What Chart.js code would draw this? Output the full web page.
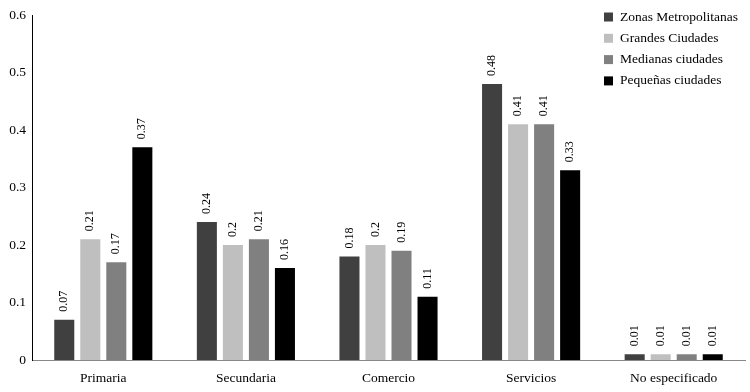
<!DOCTYPE html>
<html><head><meta charset="utf-8">
<script src="https://cdn.jsdelivr.net/npm/chart.js@4/dist/chart.umd.min.js"></script>
<style>html,body{margin:0;padding:0;background:#fff}#wrap{width:750px;height:392px}</style>
</head><body><div id="wrap"><canvas id="c" width="750" height="392"></canvas></div>
<script>
const categories = ["Primaria", "Secundaria", "Comercio", "Servicios", "No especificado"];
const seriesNames = ["Zonas Metropolitanas", "Grandes Ciudades", "Medianas ciudades", "Pequeñas ciudades"];
const zonasMetropolitanas = [0.07, 0.24, 0.18, 0.48, 0.01];
const grandesCiudades = [0.21, 0.2, 0.2, 0.41, 0.01];
const medianasCiudades = [0.17, 0.21, 0.19, 0.41, 0.01];
const pequenasCiudades = [0.37, 0.16, 0.11, 0.33, 0.01];
const yTicks = [0, 0.1, 0.2, 0.3, 0.4, 0.5, 0.6];
const colors = ["#404040", "#bfbfbf", "#808080", "#000000"];
const FONT = "'Liberation Serif', 'DejaVu Serif', serif";

const valueLabels = {
  id: 'valueLabels',
  afterDatasetsDraw(chart) {
    const ctx = chart.ctx;
    ctx.save();
    ctx.font = "12px " + FONT;
    ctx.fillStyle = "#000";
    ctx.textAlign = "left";
    ctx.textBaseline = "middle";
    chart.data.datasets.forEach((ds, i) => {
      chart.getDatasetMeta(i).data.forEach((bar, j) => {
        ctx.save();
        ctx.translate(bar.x, bar.y - 8);
        ctx.rotate(-Math.PI / 2);
        ctx.fillText(String(ds.data[j]), 0, 0);
        ctx.restore();
      });
    });
    ctx.restore();
  }
};
const customLegend = {
  id: 'customLegend',
  afterDraw(chart) {
    const ctx = chart.ctx;
    ctx.save();
    ctx.font = "13.5px " + FONT;
    ctx.textBaseline = "middle";
    ctx.textAlign = "left";
    chart.data.datasets.forEach((ds, i) => {
      const y = 17 + i * 21.3;
      ctx.fillStyle = ds.backgroundColor;
      ctx.fillRect(604, y - 4.5, 9, 9);
      ctx.fillStyle = "#000";
      ctx.fillText(ds.label, 620, y);
    });
    ctx.restore();
  }
};

const seriesData = [zonasMetropolitanas, grandesCiudades, medianasCiudades, pequenasCiudades];
new Chart(document.getElementById('c'), {
  type: 'bar',
  data: {
    labels: categories,
    datasets: seriesNames.map((n, i) => ({
      label: n, data: seriesData[i], backgroundColor: colors[i],
      categoryPercentage: 0.73, barPercentage: 0.77
    }))
  },
  options: {
    responsive: false, animation: false,
    layout: { padding: { top: 15, right: 5, left: 0, bottom: 0 } },
    plugins: { legend: { display: false }, tooltip: { enabled: false } },
    scales: {
      x: {
        grid: { display: false, drawTicks: false },
        border: { color: "#888", width: 1 },
        ticks: { color: "#000", font: { family: FONT, size: 13.5 }, padding: 10 },
        afterFit(s) { s.height = 32; }
      },
      y: {
        min: 0, max: 0.6,
        afterBuildTicks(s) { s.ticks = yTicks.map(v => ({ value: v })); },
        grid: { display: false, drawTicks: false },
        border: { color: "#000", width: 1 },
        ticks: { color: "#000", font: { family: FONT, size: 13.5 }, padding: 6, callback: v => String(v) },
        afterFit(s) { s.width = 32; }
      }
    }
  },
  plugins: [valueLabels, customLegend]
});
</script></body></html>
